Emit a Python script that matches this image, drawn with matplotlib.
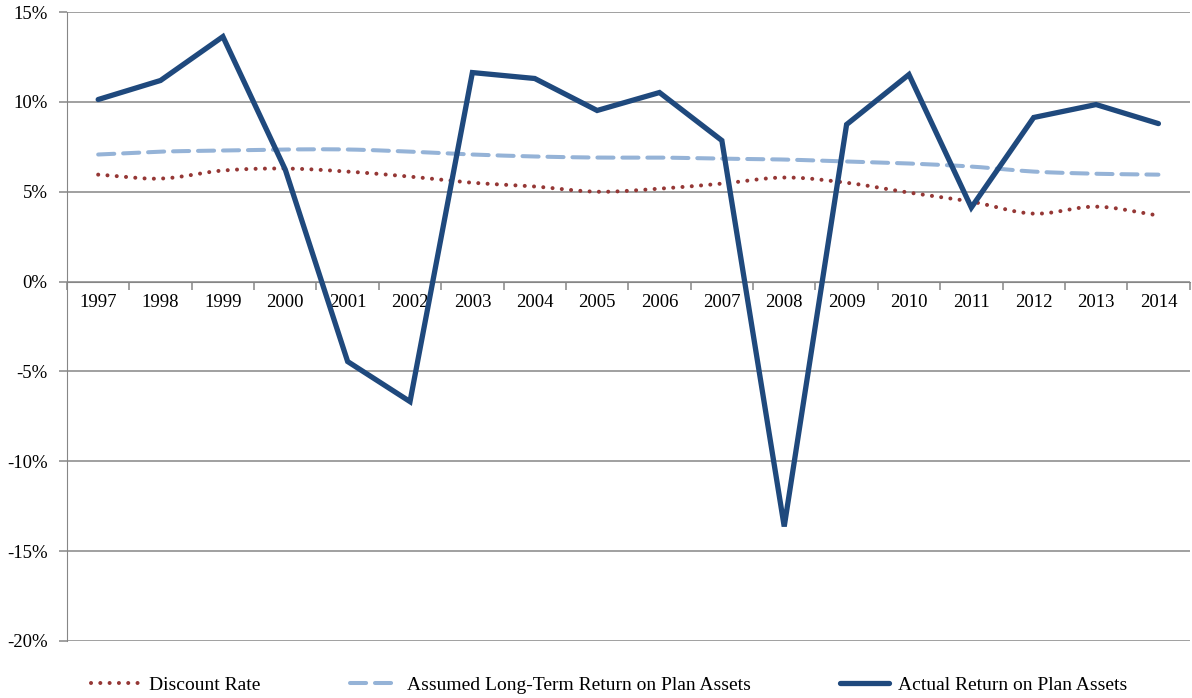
import numpy as np
import matplotlib.pyplot as plt
from matplotlib.ticker import FixedLocator, FuncFormatter

years = ['1997', '1998', '1999', '2000', '2001', '2002', '2003', '2004', '2005',
         '2006', '2007', '2008', '2009', '2010', '2011', '2012', '2013', '2014']
discount = [5.95, 5.73, 6.18, 6.29, 6.12, 5.84, 5.50, 5.29, 5.00,
            5.17, 5.45, 5.79, 5.50, 4.95, 4.45, 3.78, 4.17, 3.67]
assumed = [7.07, 7.23, 7.29, 7.35, 7.35, 7.23, 7.07, 6.96, 6.90,
           6.90, 6.84, 6.79, 6.68, 6.57, 6.40, 6.12, 6.00, 5.95]
actual = [10.13, 11.19, 13.63, 6.23, -4.45, -6.68, 11.63, 11.30, 9.52,
          10.52, 7.85, -13.63, 8.74, 11.52, 4.12, 9.13, 9.85, 8.79]


def smooth(y, n=20):
    # catmull-rom curve through the points, like Excel's smoothed line
    y = np.asarray(y, dtype=float)
    p = np.concatenate([[2 * y[0] - y[1]], y, [2 * y[-1] - y[-2]]])
    xs, ys = [], []
    for i in range(1, len(p) - 2):
        t = np.linspace(0, 1, n, endpoint=False)
        p0, p1, p2, p3 = p[i - 1], p[i], p[i + 1], p[i + 2]
        ys.append(0.5 * ((2 * p1) + (-p0 + p2) * t + (2 * p0 - 5 * p1 + 4 * p2 - p3) * t ** 2
                         + (-p0 + 3 * p1 - 3 * p2 + p3) * t ** 3))
        xs.append(i - 1 + t)
    xs.append([len(y) - 1])
    ys.append([y[-1]])
    return np.concatenate(xs), np.concatenate(ys)


plt.rcParams['font.family'] = ['Liberation Serif', 'DejaVu Serif']

fig = plt.figure(figsize=(11.92, 6.98), dpi=100)
ax = fig.add_axes([0.0562, 0.0817, 0.9418, 0.9011])

x = np.arange(len(years))
grid_c = '#868686'

xd, yd = smooth(discount)
ax.plot(xd, yd, color='#953735', lw=2.9, linestyle=(0, (0.01, 2.3)),
        dash_capstyle='round', label='Discount Rate', zorder=3)
xa, ya = smooth(assumed)
ax.plot(xa, ya, color='#95B3D7', lw=2.9, linestyle=(0, (4, 2.2)),
        dash_capstyle='round', label='Assumed Long-Term Return on Plan Assets', zorder=3)
ax.plot(x, actual, color='#1F497D', lw=3.8, solid_joinstyle='miter',
        solid_capstyle='round', label='Actual Return on Plan Assets', zorder=4)

ax.set_xlim(-0.5, len(years) - 0.5)
ax.set_ylim(-20, 15)
ax.set_yticks(np.arange(-20, 16, 5))
ax.yaxis.set_major_formatter(FuncFormatter(lambda v, p: '%d%%' % v))
ax.grid(axis='y', color=grid_c, lw=1.1)
ax.set_axisbelow(True)

ax.spines['top'].set_visible(False)
ax.spines['right'].set_visible(False)
ax.spines['left'].set_color(grid_c)
ax.spines['bottom'].set_color(grid_c)
ax.spines['bottom'].set_position(('data', 0))

ax.xaxis.set_major_locator(FixedLocator(np.arange(-0.5, len(years), 1.0)))
ax.xaxis.set_major_formatter(FuncFormatter(lambda v, p: ''))
ax.xaxis.set_minor_locator(FixedLocator(x))
ax.set_xticks(x, years, minor=True)
ax.tick_params(axis='x', which='major', length=6, color=grid_c, width=1.1, direction='out')
ax.tick_params(axis='x', which='minor', length=0, pad=9, labelsize=13.5)
ax.tick_params(axis='y', length=6, color=grid_c, width=1.1, pad=8, labelsize=13.5)

fig.legend(loc='lower left', bbox_to_anchor=(0.062, -0.019), ncol=3, frameon=False,
           fontsize=14, handlelength=2.5, handletextpad=0.45, columnspacing=4.6)

fig.savefig('out.png', dpi=100)
